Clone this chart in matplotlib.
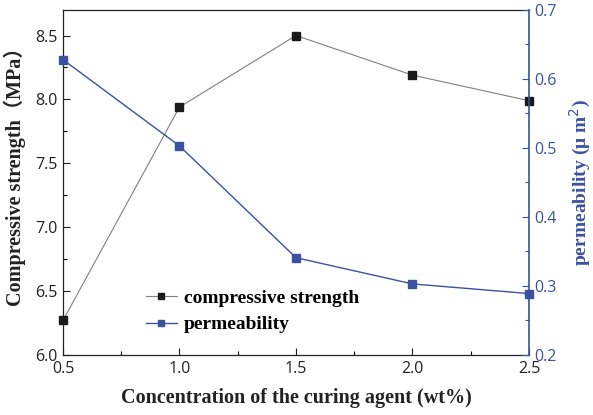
import matplotlib
matplotlib.use("Agg")
import matplotlib.pyplot as plt
from matplotlib.ticker import MultipleLocator

concentration = [0.5, 1.0, 1.5, 2.0, 2.5]
compressive_strength = [6.27, 7.94, 8.50, 8.19, 7.99]
permeability = [0.628, 0.503, 0.341, 0.303, 0.289]

blue = "#3a52a0"
tick_font = "Open Sans"
serif = ["Liberation Serif", "Noto Sans CJK SC", "DejaVu Serif"]

fig = plt.figure(figsize=(5.93, 4.15), dpi=100)
ax = fig.add_axes([0.1062, 0.1446, 0.7858, 0.8314])
ax2 = ax.twinx()

l1, = ax.plot(concentration, compressive_strength, color="#808080", lw=0.8,
              marker="s", markersize=5.5, markerfacecolor="#1a1a1a",
              markeredgecolor="#1a1a1a", label="compressive strength", clip_on=False, zorder=3)
l2, = ax2.plot(concentration, permeability, color=blue, lw=1.0,
               marker="s", markersize=5.5, markerfacecolor=blue,
               markeredgecolor=blue, label="permeability", clip_on=False, zorder=3)

ax.set_xlim(0.5, 2.5)
ax.set_ylim(6.0, 8.7)
ax2.set_ylim(0.2, 0.7)

ax.xaxis.set_minor_locator(MultipleLocator(0.25))
ax.yaxis.set_major_locator(MultipleLocator(0.5))
ax.yaxis.set_minor_locator(MultipleLocator(0.25))
ax2.yaxis.set_major_locator(MultipleLocator(0.1))
ax2.yaxis.set_minor_locator(MultipleLocator(0.05))

ax.set_xticks([0.5, 1.0, 1.5, 2.0, 2.5])
ax.set_xticklabels(["0.5", "1.0", "1.5", "2.0", "2.5"])

ax.tick_params(axis="both", which="major", direction="in", length=5, width=0.8,
               labelsize=11.5, colors="#222222", pad=4)
ax.tick_params(axis="both", which="minor", direction="in", length=3, width=0.8)
ax.tick_params(axis="y", which="both", right=False)
ax2.tick_params(axis="y", which="major", direction="in", length=5, width=0.8,
                labelsize=11.5, colors=blue, pad=4)
ax2.tick_params(axis="y", which="minor", direction="in", length=3, width=0.8, colors=blue)

for lab in ax.get_xticklabels() + ax.get_yticklabels() + ax2.get_yticklabels():
    lab.set_fontfamily(tick_font)

for s in ["left", "top", "bottom"]:
    ax.spines[s].set_color("#222222")
    ax.spines[s].set_linewidth(0.9)
ax2.spines["right"].set_color(blue)
ax2.spines["right"].set_linewidth(1.2)
ax2.spines["left"].set_visible(False)
ax2.spines["top"].set_visible(False)
ax2.spines["bottom"].set_visible(False)
ax.spines["right"].set_visible(False)

ax.set_xlabel("Concentration of the curing agent (wt%)", fontsize=14.5,
              fontweight="bold", family=serif, color="#222222", labelpad=8)
ax.set_ylabel("Compressive strength（MPa）", fontsize=14.5, fontweight="bold",
              family=serif, color="#222222")
ax.yaxis.set_label_coords(-0.08, 0.53)
ax2.set_ylabel("permeability (μ m$^{2}$)", fontsize=14, fontweight="bold",
               family=serif, color=blue, labelpad=8)

leg = ax.legend(handles=[l1, l2], loc="lower left", bbox_to_anchor=(0.14, 0.012),
                frameon=False, prop={"family": serif, "weight": "bold", "size": 14},
                handlelength=1.6, handletextpad=0.35, labelspacing=0.45,
                markerscale=0.8)

fig.savefig("out.png", dpi=100)
